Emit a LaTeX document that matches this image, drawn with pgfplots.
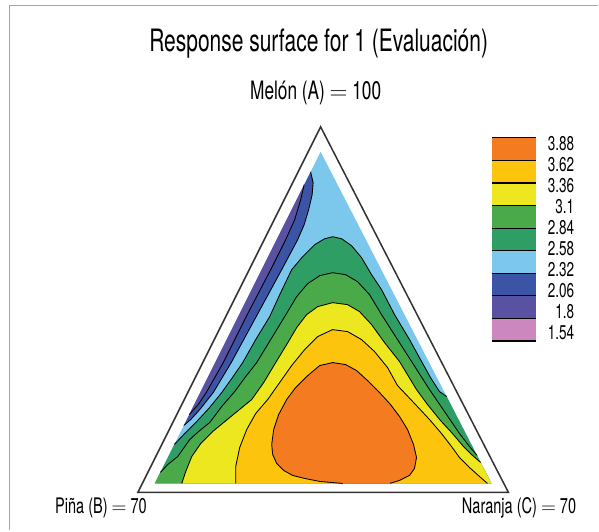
\documentclass[border=0pt]{standalone}
\usepackage{fontspec}
\setmainfont{TeX Gyre Heros}[FakeStretch=0.68]
\usepackage{pgfplots}
\pgfplotsset{compat=1.18}
\definecolor{cOr}{RGB}{244,123,32}
\definecolor{cGo}{RGB}{253,196,14}
\definecolor{cYe}{RGB}{236,231,31}
\definecolor{cGr}{RGB}{74,170,74}
\definecolor{cDg}{RGB}{46,158,100}
\definecolor{cLb}{RGB}{124,199,236}
\definecolor{cBl}{RGB}{60,84,165}
\definecolor{cIn}{RGB}{89,81,161}
\definecolor{cPi}{RGB}{204,136,190}
\begin{document}
\begin{tikzpicture}
\begin{axis}[
  scale only axis, width=599bp, height=531bp,
  xmin=0, xmax=599, ymin=0, ymax=531, y dir=reverse,
  hide axis, clip=false, no markers,
  cline/.style={draw=black, line width=0.85bp, line join=round},
]
% background
\addplot[fill=white, draw=none] coordinates {(0,0)(599,0)(599,531)(0,531)} -- cycle;
% frame
\addplot[draw=black!35, line width=1.4bp] coordinates {(9.5,531)(9.5,5.5)(599,5.5)};
% outer triangle
\addplot[draw=black!80, line width=1.5bp, line join=miter] coordinates {(321,127)(509,493)(138,493)} -- cycle;
% inner surface base: 2.32-2.58
\addplot[fill=cLb, draw=none] coordinates {(321,152)(492,484)(155,484)} -- cycle;
% < 2.32
\addplot[fill=cBl, draw=none] coordinates {(311,172)(313.5,183)(312.5,195)(309,210)(304.5,225)(298,240)(282,270)(256.5,317)(231.5,363)(213.5,393)(200,410)(191,420)(184,426)} -- cycle;
% < 2.06
\addplot[fill=cIn, draw=none] coordinates {(304.5,185)(301,200)(295,220)(286,240)(271,270)(246.5,317)(223.5,363)(206.5,393)(198.5,405)(189.5,415)} -- cycle;
% >= 2.58
\addplot[fill=cDg, draw=none] coordinates {(174.5,445)(185,434)(196,423)(209,409)(222,393)(232,379)(243,363)(256,340)(270,317)(281,293)(292,270)(303,257)(315,245)(325,239)(333,237)(342,239)(352,246)(362,258)(372,275)(382,290)(395,315)(410,340)(421,360)(431,378)(440,392)(447.2,397)(492,484)(155,484)} -- cycle;
% >= 2.84
\addplot[fill=cGr, draw=none] coordinates {(160.5,473)(168,465)(178,457)(190,440)(200,431)(210,423)(222,407)(235,392)(246,377)(257,363)(271,340)(285,317)(297,297)(308,284)(320,276)(333,273)(346,275)(358,282)(370,295)(382,315)(398,340)(414,365)(430,390)(445,412)(460,434)(470,447)(477.6,456)(492,484)(155,484)} -- cycle;
% >= 3.1
\addplot[fill=cYe, draw=none] coordinates {(182,484)(186,472)(192,457)(201,444)(213,432)(230,418)(252,400)(264,383)(276,363)(287,345)(297,328)(307,315)(318,307)(333,303)(348,305)(360,312)(372,325)(385,343)(400,362)(417,390)(428,405)(441,421)(453,434)(464,447)(472,455)(481.2,463)(492,484)} -- cycle;
% >= 3.36
\addplot[fill=cGo, draw=none] coordinates {(236,484)(236,467)(240,448)(247,430)(256,414)(268,400)(280,383)(292,366)(305,350)(318,337)(333,330)(348,332)(362,340)(375,352)(388,368)(398,386)(416,405)(430,420)(442,434)(452,447)(460,458)(470,468)(480,477)(488,484)} -- cycle;
% >= 3.62
\addplot[fill=cOr, draw=none] coordinates {(333,363)(320,366)(307,377)(296,388)(287,400)(279,415)(274,430)(272,445)(273,455)(277,464)(284,471)(293,476)(305,479)(320,482)(343,484)(390,484)(400,481)(410,476)(415,469)(417,458)(414,445)(408,430)(400,417)(391,405)(380,393)(368,381)(357,371)(346,365)} -- cycle;
% contour lines
\addplot[cline] coordinates {(311,172)(313.5,183)(312.5,195)(309,210)(304.5,225)(298,240)(282,270)(256.5,317)(231.5,363)(213.5,393)(200,410)(191,420)(184,426)};
\addplot[cline] coordinates {(304.5,185)(301,200)(295,220)(286,240)(271,270)(246.5,317)(223.5,363)(206.5,393)(198.5,405)(189.5,415)};
\addplot[cline] coordinates {(174.5,445)(185,434)(196,423)(209,409)(222,393)(232,379)(243,363)(256,340)(270,317)(281,293)(292,270)(303,257)(315,245)(325,239)(333,237)(342,239)(352,246)(362,258)(372,275)(382,290)(395,315)(410,340)(421,360)(431,378)(440,392)(447.2,397)};
\addplot[cline] coordinates {(160.5,473)(168,465)(178,457)(190,440)(200,431)(210,423)(222,407)(235,392)(246,377)(257,363)(271,340)(285,317)(297,297)(308,284)(320,276)(333,273)(346,275)(358,282)(370,295)(382,315)(398,340)(414,365)(430,390)(445,412)(460,434)(470,447)(477.6,456)};
\addplot[cline] coordinates {(182,484)(186,472)(192,457)(201,444)(213,432)(230,418)(252,400)(264,383)(276,363)(287,345)(297,328)(307,315)(318,307)(333,303)(348,305)(360,312)(372,325)(385,343)(400,362)(417,390)(428,405)(441,421)(453,434)(464,447)(472,455)(481.2,463)};
\addplot[cline] coordinates {(236,484)(236,467)(240,448)(247,430)(256,414)(268,400)(280,383)(292,366)(305,350)(318,337)(333,330)(348,332)(362,340)(375,352)(388,368)(398,386)(416,405)(430,420)(442,434)(452,447)(460,458)(470,468)(480,477)(488,484)};
\addplot[cline] coordinates {(343,484)(320,482)(305,479)(293,476)(284,471)(277,464)(273,455)(272,445)(274,430)(279,415)(287,400)(296,388)(307,377)(320,366)(333,363)(346,365)(357,371)(368,381)(380,393)(391,405)(400,417)(408,430)(414,445)(417,458)(415,469)(410,476)(400,481)(390,484)};
\addplot[draw=black!45, line width=1.6bp] coordinates {(343,484)(390,484)};
% colour bar
\addplot[fill=cOr, draw=none] coordinates {(493,138)(537,138)(537,160.6)(493,160.6)} -- cycle;
\addplot[fill=cGo, draw=none] coordinates {(493,160.6)(537,160.6)(537,183.2)(493,183.2)} -- cycle;
\addplot[fill=cYe, draw=none] coordinates {(493,183.2)(537,183.2)(537,205.8)(493,205.8)} -- cycle;
\addplot[fill=cGr, draw=none] coordinates {(493,205.8)(537,205.8)(537,228.4)(493,228.4)} -- cycle;
\addplot[fill=cDg, draw=none] coordinates {(493,228.4)(537,228.4)(537,251)(493,251)} -- cycle;
\addplot[fill=cLb, draw=none] coordinates {(493,251)(537,251)(537,273.6)(493,273.6)} -- cycle;
\addplot[fill=cBl, draw=none] coordinates {(493,273.6)(537,273.6)(537,296.2)(493,296.2)} -- cycle;
\addplot[fill=cIn, draw=none] coordinates {(493,296.2)(537,296.2)(537,318.8)(493,318.8)} -- cycle;
\addplot[fill=cPi, draw=none] coordinates {(493,318.8)(537,318.8)(537,341.4)(493,341.4)} -- cycle;
\addplot[draw=black, line width=1.1bp, unbounded coords=jump] coordinates {
 (493,138)(537,138) (515,nan)
 (493,160.6)(537,160.6) (515,nan)
 (493,183.2)(537,183.2) (515,nan)
 (493,205.8)(537,205.8) (515,nan)
 (493,228.4)(537,228.4) (515,nan)
 (493,251)(537,251) (515,nan)
 (493,273.6)(537,273.6) (515,nan)
 (493,296.2)(537,296.2) (515,nan)
 (493,318.8)(537,318.8) (515,nan)
 (493,341.4)(537,341.4)};
% texts
\node[anchor=base, inner sep=0pt, font=\fontsize{31}{36}\selectfont] at (axis cs:319,52) {Response surface for 1 (Evaluación)};
\node[anchor=base, inner sep=0pt, font=\fontsize{25.5}{30}\selectfont] at (axis cs:316,100) {Melón (A) $=$ 100};
\node[anchor=base west, inner sep=0pt, font=\fontsize{21.5}{26}\selectfont] at (axis cs:55,514) {Piña (B) $=$ 70};
\node[anchor=base east, inner sep=0pt, font=\fontsize{21.5}{26}\selectfont] at (axis cs:577,514) {Naranja (C) $=$ 70};
\begin{scope}[every node/.style={anchor=east, inner sep=0pt, font=\fontsize{20}{24}\selectfont}]
\node at (axis cs:575,143.3) {3.88};
\node at (axis cs:575,164.4) {3.62};
\node at (axis cs:575,185.5) {3.36};
\node at (axis cs:575,206.6) {3.1};
\node at (axis cs:575,227.7) {2.84};
\node at (axis cs:575,248.8) {2.58};
\node at (axis cs:575,269.9) {2.32};
\node at (axis cs:575,291.0) {2.06};
\node at (axis cs:575,312.1) {1.8};
\node at (axis cs:575,333.2) {1.54};
\end{scope}
\end{axis}
\end{tikzpicture}
\end{document}
